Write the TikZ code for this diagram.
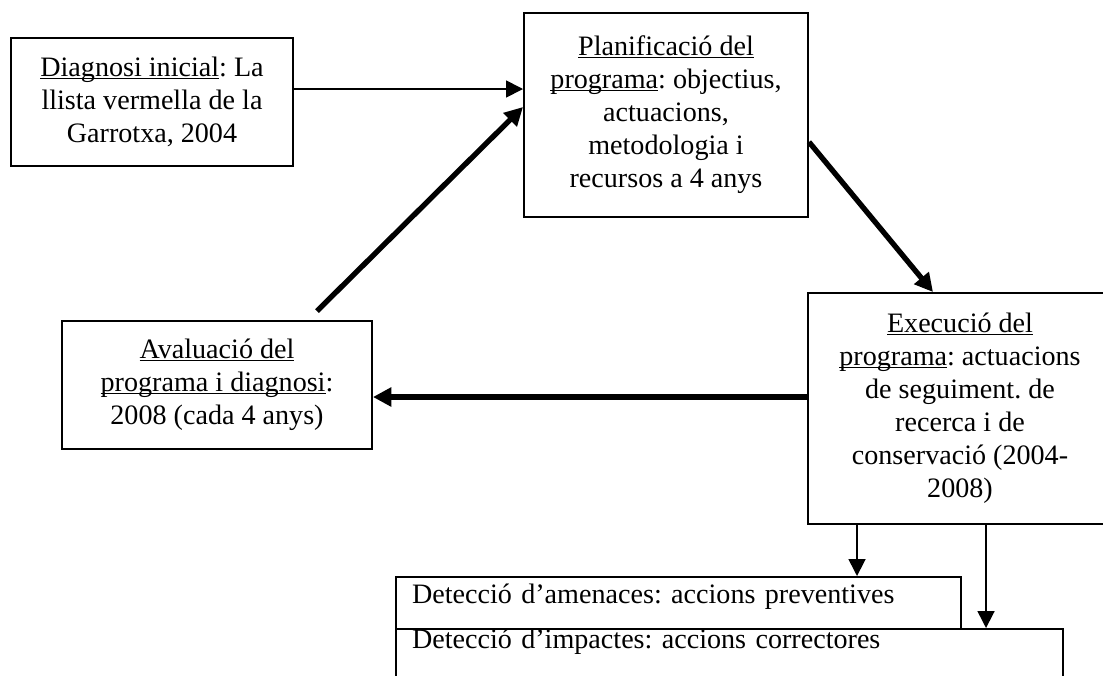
\documentclass[tikz,border=0pt]{standalone}
\usepackage{fontspec}
\setmainfont{Liberation Serif}
\usepackage{tikz}
\usetikzlibrary{arrows.meta, positioning}
\frenchspacing
\newcommand{\und}[1]{\underline{\vphantom{A}\smash{#1}}}

\begin{document}
\begin{tikzpicture}[
    block/.style={rectangle, draw, line width=1.4pt, align=center, inner sep=2pt, font=\fontsize{20}{23.5}\selectfont},
    strip/.style={rectangle, draw, line width=1.4pt, align=left, inner xsep=0.4cm, inner ysep=0pt, text height=0.45cm, font=\fontsize{20}{23.5}\selectfont},
    arrow/.style={-{Triangle[length=12pt, width=12pt]}, line width=1.2pt},
    thickarrow/.style={-{Triangle[length=13pt, width=13pt]}, line width=3.8pt}
]
    \useasboundingbox (0,0) rectangle (27.575,-16.875);
    \clip (0,0) rectangle (27.575,-16.875);

    \node[block, minimum width=7.05cm, minimum height=3.2cm] (diag) at (3.8,-2.55) {\und{Diagnosi inicial}: La\\llista vermella de la\\Garrotxa, 2004};
    \node[block, minimum width=7.1cm, minimum height=5.1cm] (plan) at (16.65,-2.875) {\und{Planificació del}\\\und{programa}: objectius,\\actuacions,\\metodologia i\\recursos a 4 anys};
    \node[block, minimum width=7.6cm, minimum height=5.775cm] (exec) at (24.0,-10.2125) {\und{Execució del}\\\und{programa}: actuacions\\de seguiment. de\\recerca i de\\conservació (2004-\\2008)};
    \node[block, minimum width=7.75cm, minimum height=3.2cm] (aval) at (5.425,-9.625) {\und{Avaluació del}\\\und{programa i diagnosi}:\\2008 (cada 4 anys)};
    \node[strip, text width=13.325cm, text depth=0.45cm, minimum height=1.3cm] (amenaces) at (16.9625,-15.075) {Detecció d’amenaces: accions preventives};
    \node[strip, text width=15.875cm, text depth=1.1cm, minimum height=1.6cm] (impactes) at (18.2375,-16.525) {Detecció d’impactes: accions correctores};

    \draw[arrow] ([yshift=0.325cm]diag.east) -- ([yshift=0.325cm]diag.east -| plan.west);
    \draw[thickarrow] ([xshift=2.5cm, yshift=0.225cm]aval.north) -- ([yshift=0.2cm]plan.west);
    \draw[thickarrow] ([yshift=-0.675cm]plan.east) -- ([xshift=-0.675cm]exec.north);
    \draw[thickarrow] ([yshift=0.2875cm]exec.west) -- ([yshift=0.2875cm]exec.west -| aval.east);
    \draw[arrow] ([xshift=1.25cm]exec.south west) -- ([xshift=1.25cm]exec.south west |- amenaces.north);
    \draw[arrow] ([xshift=4.475cm]exec.south west) -- ([xshift=4.475cm]exec.south west |- impactes.north);
\end{tikzpicture}
\end{document}
